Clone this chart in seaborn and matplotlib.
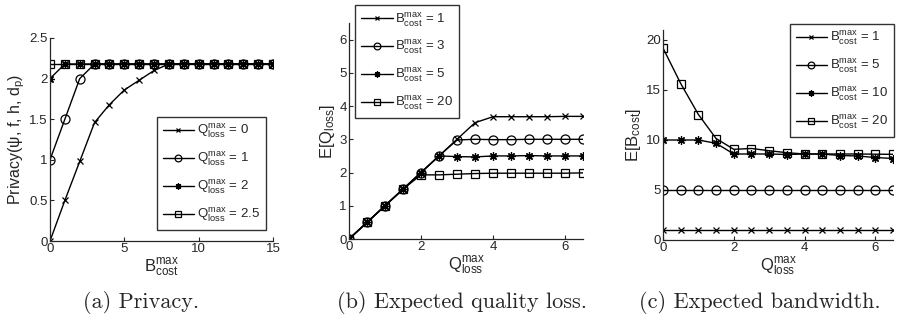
import numpy as np
import pandas as pd
import matplotlib
matplotlib.use("Agg")
import matplotlib.pyplot as plt
import seaborn as sns

sns.set_style("ticks")
plt.rcParams["font.family"] = ["Liberation Sans", "DejaVu Sans"]
plt.rcParams["mathtext.fontset"] = "custom"
plt.rcParams["mathtext.rm"] = "Liberation Sans"
plt.rcParams["mathtext.it"] = "Liberation Sans:italic"

# (a) Privacy vs B_cost^max
b_cost = list(range(16))
priv_q0 = [0, 0.5, 0.98, 1.46, 1.68, 1.86, 1.98, 2.1, 2.18, 2.18, 2.18, 2.18, 2.18, 2.18, 2.18, 2.18]
priv_q1 = [1.0, 1.5, 2.0] + [2.18] * 13
priv_q2 = [2.0] + [2.18] * 15
priv_q25 = [2.18] * 16
priv_labels = ["0", "1", "2", "2.5"]

# (b) Expected quality loss vs Q_loss^max
q_loss = [0, 0.5, 1, 1.5, 2, 2.5, 3, 3.5, 4, 4.5, 5, 5.5, 6, 6.5]
eq_b1 = [0, 0.5, 1, 1.5, 2, 2.5, 3.0, 3.5, 3.68, 3.68, 3.68, 3.68, 3.69, 3.69]
eq_b3 = [0, 0.5, 1, 1.5, 2, 2.5, 2.98, 3.0, 2.99, 2.99, 3.0, 3.0, 3.0, 3.0]
eq_b5 = [0, 0.5, 1, 1.5, 2, 2.5, 2.48, 2.47, 2.5, 2.5, 2.51, 2.5, 2.5, 2.5]
eq_b20 = [0, 0.5, 1, 1.5, 1.93, 1.93, 1.95, 1.97, 1.98, 1.98, 1.98, 1.98, 1.98, 1.99]
eq_labels = ["1", "3", "5", "20"]

# (c) Expected bandwidth vs Q_loss^max
bw_b1 = [1.0] * 14
bw_b5 = [5.0] * 14
bw_b10 = [10, 10, 10, 9.67, 8.6, 8.6, 8.6, 8.55, 8.6, 8.6, 8.45, 8.4, 8.25, 8.15]
bw_b20 = [19.2, 15.65, 12.55, 10.15, 9.07, 9.15, 8.93, 8.73, 8.6, 8.6, 8.6, 8.6, 8.58, 8.57]
bw_labels = ["1", "5", "10", "20"]

# matlab-ish markers: x, open circle, asterisk, open square
markers = ["x", "o", (8, 2, 0), "s"]
msizes = [4.5, 6.5, 6, 5.5]
filled = [True, False, True, False]

W, H = 897, 322
fig = plt.figure(figsize=(W / 100, H / 100), dpi=100)


def add_ax(l, t, r, b):
    return fig.add_axes([l / W, 1 - b / H, (r - l) / W, (b - t) / H])


def draw(ax, x, series, labels, prefix):
    for y, m, ms, f, lab in zip(series, markers, msizes, filled, labels):
        df = pd.DataFrame({"x": x, "y": y})
        sns.lineplot(data=df, x="x", y="y", ax=ax, color="black", lw=1,
                     marker=m, markersize=ms, markerfacecolor="black" if f else "none",
                     markeredgecolor="black", markeredgewidth=0.9,
                     label=prefix + " = " + lab)
    ax.tick_params(direction="in", labelsize=9.5, length=3, width=0.8, pad=1.5)
    sns.despine(ax=ax)
    for s in ["left", "bottom"]:
        ax.spines[s].set_linewidth(0.9)


def style_legend(ax, loc, anchor):
    leg = ax.legend(loc=loc, bbox_to_anchor=anchor, frameon=True, fancybox=False,
                    fontsize=9.5, handlelength=2.4, labelspacing=0.78, markerscale=0.75,
                    borderpad=0.45, handletextpad=0.2, borderaxespad=0)
    leg.get_frame().set_edgecolor("black")
    leg.get_frame().set_linewidth(1.0)


qlab = r"$\mathregular{Q^{max}_{loss}}$"
blab = r"$\mathregular{B^{max}_{cost}}$"

# panel a
ax1 = add_ax(50, 38, 273, 241)
draw(ax1, b_cost, [priv_q0, priv_q1, priv_q2, priv_q25], priv_labels, qlab)
ax1.set_xlim(0, 15)
ax1.set_ylim(0, 2.5)
ax1.set_xticks([0, 5, 10, 15])
ax1.set_yticks([0, 0.5, 1, 1.5, 2, 2.5])
ax1.set_yticklabels(["0", "0.5", "1", "1.5", "2", "2.5"])
ax1.set_xlabel(blab, fontsize=12, labelpad=1)
ax1.set_ylabel(r"Privacy($\mathregular{\psi}$, f, h, $\mathregular{d_p}$)", fontsize=11.5, labelpad=2)
style_legend(ax1, "upper right", (0.969, 0.611))

# panel b
ax2 = add_ax(349, 23, 583, 239)
draw(ax2, q_loss, [eq_b1, eq_b3, eq_b5, eq_b20], eq_labels, blab)
ax2.set_xlim(0, 6.5)
ax2.set_ylim(0, 6.5)
ax2.set_xticks([0, 2, 4, 6])
ax2.set_yticks(range(7))
ax2.set_xlabel(qlab, fontsize=12, labelpad=1)
ax2.set_ylabel(r"E[$\mathregular{Q_{loss}}$]", fontsize=12, labelpad=2)
style_legend(ax2, "upper left", (0.026, 1.083))

# panel c
ax3 = add_ax(663, 30, 893, 240)
draw(ax3, q_loss, [bw_b1, bw_b5, bw_b10, bw_b20], bw_labels, blab)
ax3.set_xlim(0, 6.5)
ax3.set_ylim(0, 21)
ax3.set_xticks([0, 2, 4, 6])
ax3.set_yticks([0, 5, 10, 15, 20])
ax3.set_xlabel(qlab, fontsize=12, labelpad=1)
ax3.set_ylabel(r"E[$\mathregular{B_{cost}}$]", fontsize=12, labelpad=2)
style_legend(ax3, "upper right", (1.004, 1.029))

cap = dict(fontsize=16, family=["cmr10", "DejaVu Serif"], ha="center", va="center")
fig.text(141 / W, 1 - 303 / H, "(a) Privacy.", **cap)
fig.text(462 / W, 1 - 303 / H, "(b) Expected quality loss.", **cap)
fig.text(760 / W, 1 - 303 / H, "(c) Expected bandwidth.", **cap)

fig.savefig("out.png", dpi=100)
